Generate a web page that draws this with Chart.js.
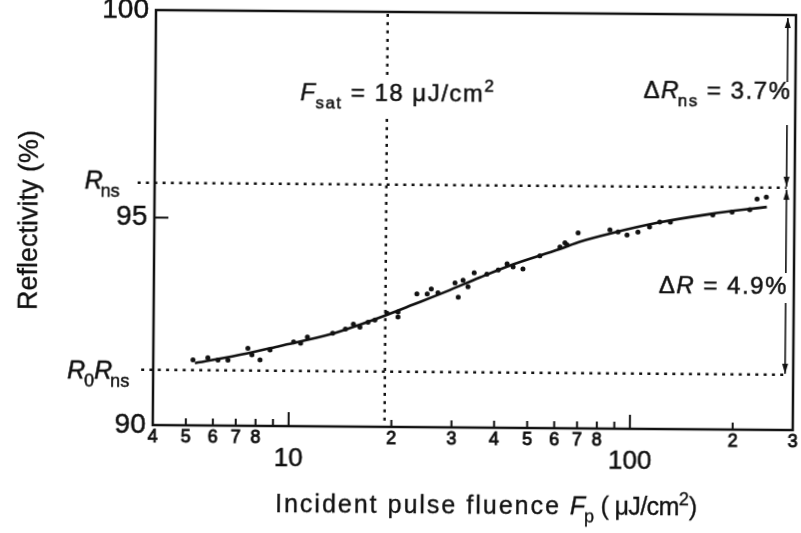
<!DOCTYPE html>
<html>
<head>
<meta charset="utf-8">
<script src="https://cdn.jsdelivr.net/npm/chart.js@4"></script>
<style>
  html, body { margin: 0; padding: 0; background: #fff; overflow: hidden; }
  /* the scanned figure sits slightly rotated on the page */
  #wrap { width: 801px; height: 533px; transform: rotate(0.45deg); }
</style>
</head>
<body>
<div id="wrap"><canvas id="chart"></canvas></div>
<script>
// ============================================================
// Reflectivity vs incident pulse fluence (saturable absorber)
// ============================================================

// measured points
const fluence     = [5.23, 5.78, 6.19, 6.62, 7.57, 7.78, 8.22, 8.79, 10.3, 10.8, 11.3, 13.4, 14.6, 15.4, 16.1, 17.0, 17.8,
                     19.3, 20.8, 20.8, 23.6, 25.3, 26.0, 27.2, 30.5, 31.2, 32.2, 33.3, 34.7, 37.8, 40.8, 43.3, 45.1, 48.2,
                     54.0, 61.8, 63.9, 64.8, 69.8, 86.5, 91.4, 97.1, 104.5, 113, 121, 130, 173, 197, 222, 233, 248];
const reflectivity = [91.58, 91.63, 91.58, 91.58, 91.87, 91.71, 91.59, 91.83, 92.03, 92.00, 92.15, 92.25, 92.35, 92.47, 92.40, 92.52, 92.57,
                     92.74, 92.77, 92.65, 93.21, 93.21, 93.33, 93.24, 93.48, 93.14, 93.55, 93.39, 93.73, 93.70, 93.80, 93.95, 93.88, 93.83,
                     94.15, 94.37, 94.47, 94.42, 94.71, 94.79, 94.74, 94.67, 94.74, 94.87, 94.99, 94.99, 95.17, 95.24, 95.30, 95.56, 95.61];

// fitted curve
const fitX = [5.3, 7.5, 9.4, 13.2, 16.1, 19.3, 23.0, 28.9, 36.1, 45.1, 61.8, 70.8, 86.5, 121, 170, 212, 249];
const fitY = [91.50, 91.74, 91.93, 92.22, 92.46, 92.70, 92.95, 93.28, 93.62, 93.94, 94.32, 94.50, 94.70, 94.98, 95.19, 95.30, 95.37];

// reference levels
const rNs     = 95.84;   // R_ns
const r0Rns   = 91.33;   // R_0 R_ns
const fSatX   = 19.1;    // F_sat marker
const arrowX  = 284;     // where the ΔR arrows sit

// axes
const xRange        = [4, 300];
const yRange        = [90, 100];
const yTickValues   = [90, 95, 100];
const yTickLabels   = ['90', '95', '100'];
const yTickMarks    = [95];
const xMinorTicks   = [5, 6, 7, 8, 9, 20, 30, 40, 50, 60, 70, 80, 90, 200];
const xMajorTicks   = [10, 100];
const xMinorLabelAt = [4, 5, 6, 7, 8, 20, 30, 40, 50, 60, 70, 80, 200, 300];
const xMinorLabels  = ['4', '5', '6', '7', '8', '2', '3', '4', '5', '6', '7', '8', '2', '3'];
const xMajorLabels  = ['10', '100'];

const FAM = '"Liberation Sans", Arial, Helvetica, sans-serif';
const INK = '#111';

// filled + lightly stroked text, a bit heavier like the printed figure
function ink(ctx, t, x, y, w = 0.5) {
  ctx.fillText(t, x, y);
  ctx.lineWidth = w;
  ctx.strokeText(t, x, y);
}

// rich text: parts = [{t, it, sub, sup, dx, ls}]
function rich(ctx, parts, x, y, align, size, ls, w) {
  const fontOf = p => (p.it ? 'italic ' : '') + ((p.sub || p.sup) ? Math.round(size * 0.7) : size) + 'px ' + FAM;
  const lsOf = p => (p.ls !== undefined ? p.ls : ls) + 'px';
  let total = 0;
  const ws = parts.map(p => {
    ctx.font = fontOf(p);
    ctx.letterSpacing = lsOf(p);
    const m = ctx.measureText(p.t).width + (p.dx || 0);
    total += m;
    return m;
  });
  let cx = align === 'right' ? x - total : align === 'center' ? x - total / 2 : x;
  ctx.textAlign = 'left';
  ctx.textBaseline = 'alphabetic';
  parts.forEach((p, i) => {
    ctx.font = fontOf(p);
    ctx.letterSpacing = lsOf(p);
    const dy = p.sub ? size * 0.32 : p.sup ? -size * 0.42 : 0;
    ink(ctx, p.t, cx + (p.dx || 0), y + dy, w);
    cx += ws[i];
  });
  ctx.letterSpacing = '0px';
}

function vArrow(ctx, x, y1, y2, headTop, headBottom) {
  ctx.beginPath();
  ctx.moveTo(x, y1);
  ctx.lineTo(x, y2);
  ctx.stroke();
  const head = (yt, dir) => {
    ctx.beginPath();
    ctx.moveTo(x, yt);
    ctx.lineTo(x - 3, yt - dir * 10);
    ctx.lineTo(x + 3, yt - dir * 10);
    ctx.closePath();
    ctx.fill();
  };
  if (headTop) head(y1, -1);
  if (headBottom) head(y2, 1);
}

const guides = {
  id: 'guides',
  beforeDatasetsDraw(chart) {
    const { ctx, chartArea: a, scales: { x, y } } = chart;
    ctx.save();
    ctx.strokeStyle = INK;
    ctx.fillStyle = INK;
    ctx.lineWidth = 2.5;
    ctx.setLineDash([3, 5.3]);

    const xa = x.getPixelForValue(arrowX);
    const yNs = y.getPixelForValue(rNs);
    const y0 = y.getPixelForValue(r0Rns);

    ctx.beginPath();
    ctx.moveTo(a.left - 17, yNs);
    ctx.lineTo(xa, yNs);
    ctx.moveTo(a.left - 12, y0);
    ctx.lineTo(xa, y0);
    // F_sat marker, broken where its label crosses it
    const xf = x.getPixelForValue(fSatX);
    ctx.moveTo(xf, a.top + 2);
    ctx.lineTo(xf, 77);
    ctx.moveTo(xf, 119);
    ctx.lineTo(xf, a.bottom);
    ctx.stroke();

    // ΔR arrows
    ctx.setLineDash([]);
    ctx.lineWidth = 1.6;
    const yTop = y.getPixelForValue(yRange[1]);
    vArrow(ctx, xa, yTop + 3, 79, true, false);
    vArrow(ctx, xa, 122, yNs - 1, false, true);
    vArrow(ctx, xa, yNs + 2, 270, true, false);
    vArrow(ctx, xa, 300, y0 - 1, false, true);
    ctx.restore();
  },
  afterDraw(chart) {
    const { ctx, chartArea: a, scales: { x, y } } = chart;
    ctx.save();
    ctx.strokeStyle = INK;
    ctx.fillStyle = INK;

    // frame
    ctx.lineWidth = 2.5;
    ctx.strokeRect(a.left, a.top, a.right - a.left, a.bottom - a.top);

    // ticks, pointing inward
    ctx.lineWidth = 2;
    ctx.beginPath();
    xMinorTicks.forEach(v => {
      const px = x.getPixelForValue(v);
      ctx.moveTo(px, a.bottom);
      ctx.lineTo(px, a.bottom - 7);
    });
    xMajorTicks.forEach(v => {
      const px = x.getPixelForValue(v);
      ctx.moveTo(px, a.bottom);
      ctx.lineTo(px, a.bottom - 14);
    });
    yTickMarks.forEach(v => {
      const py = y.getPixelForValue(v);
      ctx.moveTo(a.left, py);
      ctx.lineTo(a.left + 14, py);
    });
    ctx.stroke();

    // tick labels
    ctx.textAlign = 'center';
    ctx.textBaseline = 'middle';
    ctx.font = '18px ' + FAM;
    xMinorLabelAt.forEach((v, i) => ink(ctx, xMinorLabels[i], x.getPixelForValue(v), a.bottom + 12, 0.9));
    ctx.font = '26px ' + FAM;
    xMajorTicks.forEach((v, i) => ink(ctx, xMajorLabels[i], x.getPixelForValue(v), a.bottom + 33));
    ctx.textAlign = 'right';
    ctx.font = '28px ' + FAM;
    yTickValues.forEach((v, i) => ink(ctx, yTickLabels[i], a.left - 7, y.getPixelForValue(v)));

    // level labels
    const yNs = y.getPixelForValue(rNs);
    const y0 = y.getPixelForValue(r0Rns);
    rich(ctx, [{ t: 'R', it: true }, { t: 'ns', sub: true, dx: -2 }], 84, yNs + 6, 'left', 25, 0, 0.5);
    rich(ctx, [{ t: 'R', it: true }, { t: '0', sub: true, dx: -1 }, { t: 'R', it: true }, { t: 'ns', sub: true, dx: -2 }],
         68, y0 + 9, 'left', 25, 0, 0.5);

    // annotations
    rich(ctx, [{ t: 'F', it: true }, { t: 'sat', sub: true, dx: -1 }, { t: ' = 18 μJ/cm' }, { t: '2', sup: true }],
         299, 101, 'left', 24, 1.5, 0.5);
    rich(ctx, [{ t: 'Δ' }, { t: 'R', it: true }, { t: 'ns', sub: true, dx: -2 }, { t: ' = 3.7%' }],
         790, 96, 'right', 24, 1.5, 0.5);
    rich(ctx, [{ t: 'Δ' }, { t: 'R', it: true }, { t: ' = 4.9%' }],
         788, 291, 'right', 24, 1.5, 0.5);

    // axis titles
    rich(ctx, [{ t: 'Incident pulse fluence ', ls: 2.0 }, { t: 'F', it: true, ls: 0 }, { t: 'p', sub: true, dx: -1, ls: 0 },
               { t: ' ( μJ/cm', ls: -0.6 }, { t: '2', sup: true, ls: 0 }, { t: ')', ls: 0 }],
         488, 513, 'center', 25, 0, 0.35);
    ctx.translate(29, 223);
    ctx.rotate(-Math.PI / 2);
    rich(ctx, [{ t: 'Reflectivity (%)' }], 0, 8, 'center', 27, 0, 0.35);
    ctx.restore();
  }
};

new Chart(document.getElementById('chart'), {
  type: 'scatter',
  data: {
    datasets: [
      {
        label: 'measured',
        data: fluence.map((f, i) => ({ x: f, y: reflectivity[i] })),
        pointRadius: 2.5,
        pointBackgroundColor: INK,
        pointBorderWidth: 0,
      },
      {
        label: 'fit',
        data: fitX.map((f, i) => ({ x: f, y: fitY[i] })),
        showLine: true,
        pointRadius: 0,
        borderColor: INK,
        borderWidth: 2.6,
        cubicInterpolationMode: 'monotone',
      }
    ]
  },
  options: {
    responsive: true,
    maintainAspectRatio: false,
    animation: false,
    layout: { padding: { left: 154, right: 7, top: 12, bottom: 106 } },
    plugins: { legend: { display: false }, tooltip: { enabled: false } },
    scales: {
      x: { type: 'logarithmic', min: xRange[0], max: xRange[1], display: false },
      y: { type: 'linear', min: yRange[0], max: yRange[1], display: false }
    }
  },
  plugins: [guides]
});
</script>
</body>
</html>
